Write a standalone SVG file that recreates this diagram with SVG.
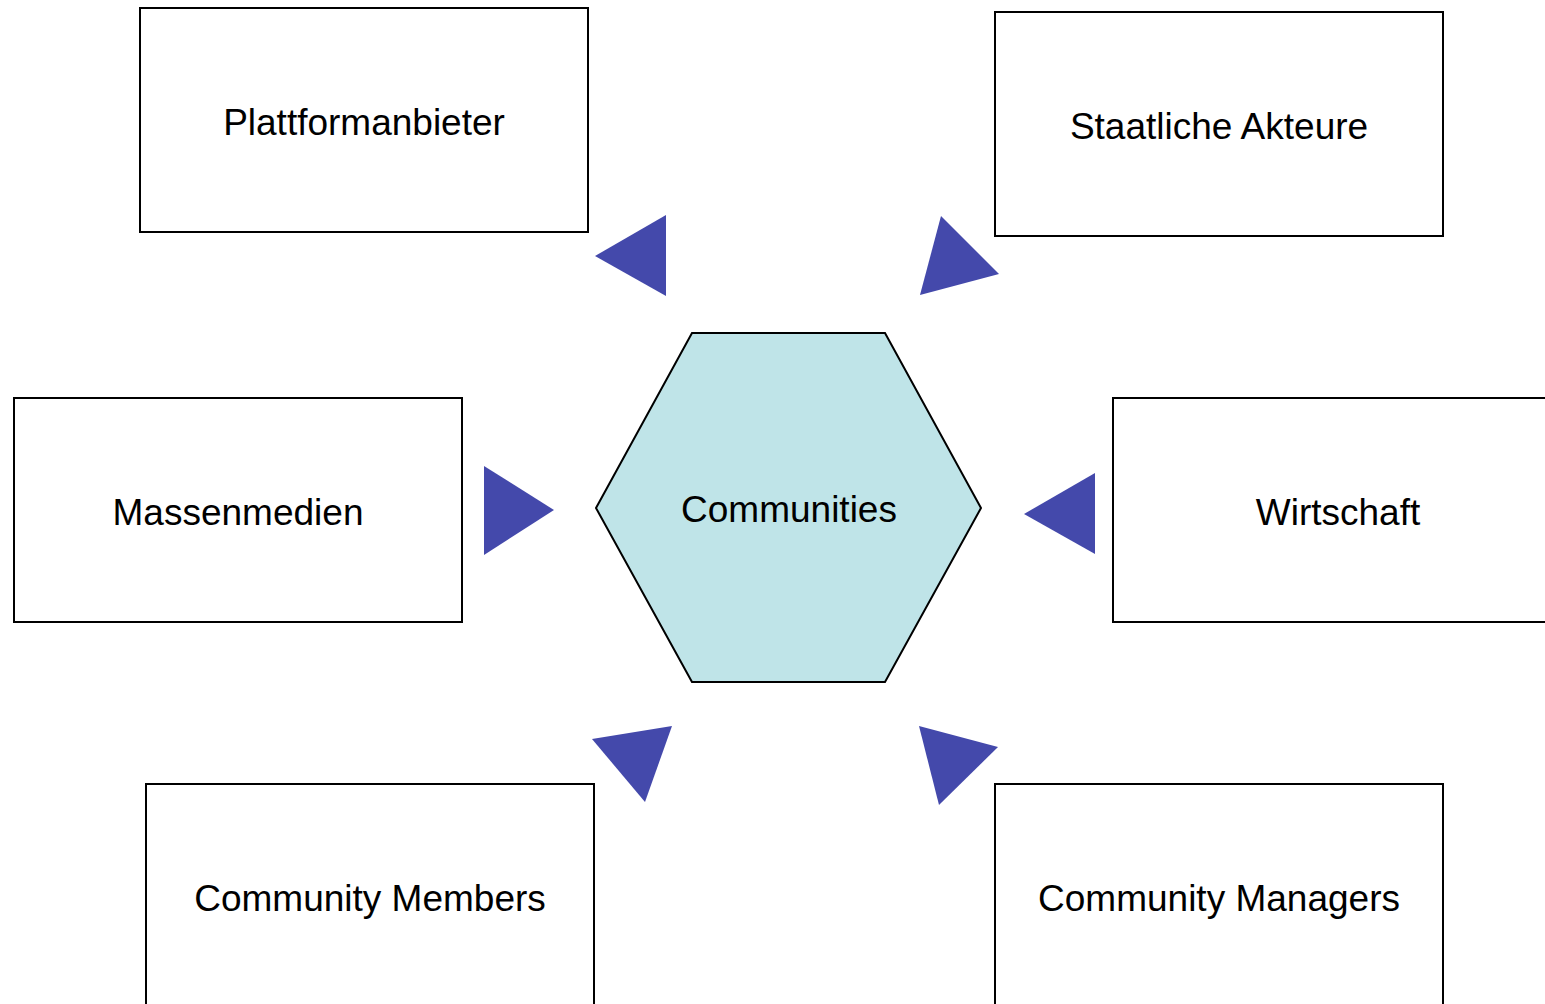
<svg xmlns="http://www.w3.org/2000/svg" width="1545" height="1004" viewBox="0 0 1545 1004">
<style>
.box{fill:#ffffff;stroke:#000000;stroke-width:2}
.hex{fill:#BFE4E8;stroke:#000000;stroke-width:2}
.arr{fill:#4449AB;stroke:none}
.lbl{font-family:"Liberation Sans",Arial,sans-serif;font-size:37px;fill:#000000;text-anchor:middle}
</style>
<rect width="1545" height="1004" fill="#ffffff"/>
<g id="plattformanbieter">
<rect class="box" x="140" y="8" width="448" height="224"/>
<text class="lbl" x="364" y="135">Plattformanbieter</text>
</g>
<g id="staatliche-akteure">
<rect class="box" x="995" y="12" width="448" height="224"/>
<text class="lbl" x="1219" y="139">Staatliche Akteure</text>
</g>
<g id="massenmedien">
<rect class="box" x="14" y="398" width="448" height="224"/>
<text class="lbl" x="238" y="525">Massenmedien</text>
</g>
<g id="wirtschaft">
<rect class="box" x="1113" y="398" width="448" height="224"/>
<text class="lbl" x="1338" y="525">Wirtschaft</text>
</g>
<g id="community-members">
<rect class="box" x="146" y="784" width="448" height="240"/>
<text class="lbl" x="370" y="911">Community Members</text>
</g>
<g id="community-managers">
<rect class="box" x="995" y="784" width="448" height="240"/>
<text class="lbl" x="1219" y="911">Community Managers</text>
</g>
<g id="communities">
<polygon class="hex" points="692,333 885,333 981,508 885,682 692,682 596,508"/>
<text class="lbl" x="789" y="522">Communities</text>
</g>
<g id="connectors">
<polygon class="arr" points="595,256 666,215 666,296"/>
<polygon class="arr" points="941,216 999,274 920,295"/>
<polygon class="arr" points="484,466 554,510 484,555"/>
<polygon class="arr" points="1024,514 1095,473 1095,554"/>
<polygon class="arr" points="592,739 672,726 645,802"/>
<polygon class="arr" points="919,726 998,747 939,805"/>
</g>
</svg>
